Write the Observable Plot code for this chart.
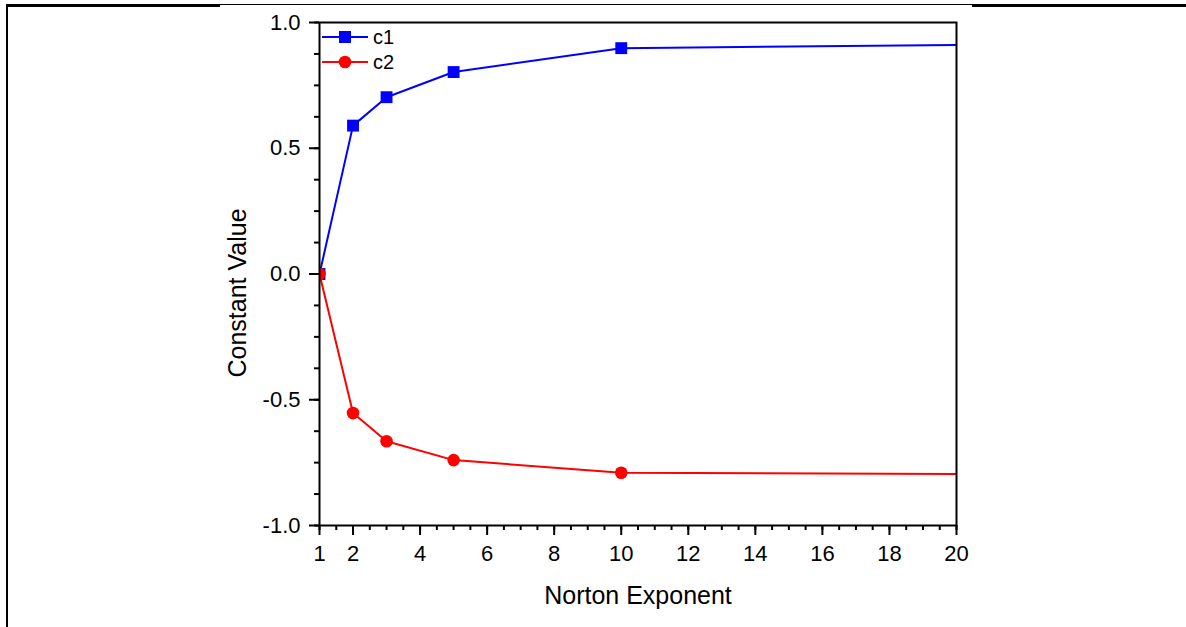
<!DOCTYPE html>
<html><head><meta charset="utf-8">
<script src="https://cdn.jsdelivr.net/npm/d3@7"></script>
<script src="https://cdn.jsdelivr.net/npm/@observablehq/plot@0.6"></script>
<style>
body{margin:0;background:#fff;}
#wrap{position:relative;width:1186px;height:627px;overflow:hidden;font-family:"Liberation Sans",Arial,sans-serif;}
.bar{position:absolute;background:#000;}
</style></head><body>
<div id="wrap">
  <div class="bar" style="left:6px;top:4px;width:214px;height:3px"></div>
  <div class="bar" style="left:220px;top:4px;width:752px;height:1px"></div>
  <div class="bar" style="left:972px;top:4px;width:214px;height:3px"></div>
  <div class="bar" style="left:6px;top:4px;width:2px;height:623px"></div>
</div>
<script>
// ---- data ----
const exponent = [1, 2, 3, 5, 10, 20];
const c1 = [0, 0.59, 0.703, 0.803, 0.898, 0.911];
const c2 = [0, -0.553, -0.665, -0.74, -0.79, -0.795];
const seriesNames = ["c1", "c2"];
const seriesColors = ["#0000ff", "#ff0000"];
const seriesSymbols = ["square", "circle"];
const xTickValues = [1, 2, 4, 6, 8, 10, 12, 14, 16, 18, 20];
const yTickValues = [-1, -0.5, 0, 0.5, 1];
const xLabel = "Norton Exponent";
const yLabel = "Constant Value";

const xDomain = [1, 20], yDomain = [-1, 1];
const series = [c1, c2].map((vals, k) => exponent.map((x, i) => ({x, y: vals[i], s: seriesNames[k]})));
const xMinor = d3.range(1, 20.001, 0.5);
const yMinor = d3.range(-1, 1.001, 0.125);

const W = 1186, H = 627, ML = 319, MR = 230, MT = 22, MB = 102;
const font = "Liberation Sans, Arial, sans-serif";
const tickFont = 22;

const marks = [];
series.forEach((rows, k) => {
  marks.push(Plot.line(rows, {x: "x", y: "y", stroke: seriesColors[k], strokeWidth: 2, curve: "linear", clip: true}));
  marks.push(Plot.dot(rows.filter(d => d.x < xDomain[1]), {x: "x", y: "y", symbol: seriesSymbols[k], r: k === 0 ? 6.7 : 6.3, fill: seriesColors[k], stroke: "none", clip: true}));
});
marks.push(
  Plot.axisX(xMinor, {tickSize: 5, strokeWidth: 2, tickFormat: () => "", label: null}),
  Plot.axisX(xTickValues, {tickSize: 10, tickPadding: 10, strokeWidth: 2, fontSize: tickFont, tickFormat: d => String(d), label: null}),
  Plot.axisY(yMinor, {tickSize: 5, strokeWidth: 2, tickFormat: () => "", label: null}),
  Plot.axisY(yTickValues, {tickSize: 10, tickPadding: 9, strokeWidth: 2, fontSize: tickFont, tickFormat: d => d.toFixed(1), label: null}),
  Plot.frame({stroke: "black", strokeWidth: 2}),
  Plot.text([xLabel], {frameAnchor: "bottom", dy: 70, lineAnchor: "middle", textAnchor: "middle", fontSize: 25, fill: "black"}),
  Plot.text([yLabel], {frameAnchor: "left", dx: -82, dy: 19, rotate: -90, lineAnchor: "middle", textAnchor: "middle", fontSize: 25, fill: "black"})
);

const chart = Plot.plot({
  width: W, height: H,
  marginLeft: ML, marginRight: MR, marginTop: MT, marginBottom: MB,
  style: {fontFamily: font, background: "transparent", color: "black", overflow: "visible"},
  x: {domain: xDomain, label: null},
  y: {domain: yDomain, label: null},
  marks
});
chart.style.position = "absolute";
chart.style.left = "0px";
chart.style.top = "0px";

const svg = d3.select(chart);
// make sure tick labels get the intended size
svg.selectAll('g[aria-label$="tick label"]').attr("font-size", tickFont).style("font-size", tickFont + "px");

// legend inside the frame, top-left
const lg = svg.append("g").attr("font-family", font).attr("text-anchor", "start");
seriesNames.forEach((name, k) => {
  const cy = MT + 15 + k * 25;
  lg.append("line").attr("x1", ML + 3).attr("x2", ML + 49).attr("y1", cy).attr("y2", cy)
    .attr("stroke", seriesColors[k]).attr("stroke-width", 2);
  if (seriesSymbols[k] === "square") {
    lg.append("rect").attr("x", ML + 26 - 6).attr("y", cy - 6).attr("width", 12).attr("height", 12).attr("fill", seriesColors[k]);
  } else {
    lg.append("circle").attr("cx", ML + 26).attr("cy", cy).attr("r", 6.3).attr("fill", seriesColors[k]);
  }
  lg.append("text").attr("x", ML + 54).attr("y", cy).attr("dy", "0.36em").attr("font-size", 20).attr("fill", "black").text(name);
});

document.getElementById("wrap").appendChild(chart);
</script>
</body></html>
